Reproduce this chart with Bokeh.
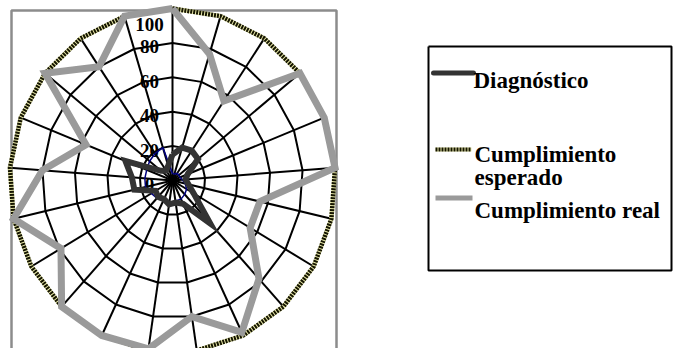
import numpy as np
from bokeh.plotting import figure
from bokeh.models import Range1d
from bokeh.layouts import row
from bokeh.embed import file_html
from bokeh.resources import INLINE
from bokeh.core.properties import value

# ---------------- data ----------------
n_cat = 21
categories = [str(i + 1) for i in range(n_cat)]
diagnostico = [15, 20, 21, 20, 10, 8, 10, 15, 34, 15, 13, 14, 12, 13, 12, 24, 25, 31, 9, 7, 9]
esperado = [100] * n_cat
real = [100, 77, 56, 100, 100, 100, 55, 55, 78, 98, 80, 99, 100, 100, 79, 100, 80, 57, 100, 80, 100]
serie_azul = [4, 4, 5, 5, 5, 6, 8, 10, 11, 12, 12, 13, 13, 14, 15, 17, 17, 17, 18, 19, 20]
ticks = [0, 20, 40, 60, 80, 100]
tick_labels = ["0", "20", "40", "60", "80", "100"]
legend_labels = ["Diagnóstico", "Cumplimiento esperado", "Cumplimiento real"]

# ---------------- layout constants (pixels) ----------------
W, H = 673, 348
RW = 345                # width of radar panel
CX, CY = 172, 180       # centre of radar in px
SX, SY = 1.63, 1.72     # px per unit horizontally / vertically

FONT = value("Liberation Serif")


def polar(vals):
    th = 2 * np.pi * np.arange(len(vals)) / len(vals)
    v = np.asarray(vals, dtype=float)
    x = v * np.sin(th)
    y = v * np.cos(th)
    return list(x) + [x[0]], list(y) + [y[0]]


def px2d(px, py):
    return (px - CX) / SX, (CY - py) / SY


p = figure(width=RW, height=H, output_backend="svg", toolbar_location=None,
           x_range=Range1d(-CX / SX, (RW - CX) / SX),
           y_range=Range1d(-(H - CY) / SY, CY / SY),
           x_axis_type=None, y_axis_type=None, min_border=0,
           background_fill_color="white", border_fill_color="white")
p.grid.visible = False
p.outline_line_color = None

# frame of the plot area
fl, ft = px2d(11, 10)
fr, fb = px2d(336, 365)
p.line([fl, fl, fr, fr], [fb, ft, ft, fb], line_color="#8c8c8c", line_width=2.5)

# grid rings (polygons) and spokes
for t in ticks[1:]:
    gx, gy = polar([t] * n_cat)
    p.line(gx, gy, line_color="black", line_width=2)
sx_, sy_ = polar([100] * n_cat)
p.multi_line([[0, a] for a in sx_[:-1]], [[0, b] for b in sy_[:-1]],
             line_color="black", line_width=2)

# tick labels
lx, _ = px2d(149, 0)
p.text(x=[lx] * len(ticks), y=[min(t, 93) for t in ticks], text=tick_labels,
       text_font=FONT, text_font_style="bold", text_font_size="19px",
       text_align="center", text_baseline="middle", y_offset=4, text_color="black")

# Cumplimiento esperado (hatched)
ex, ey = polar(esperado)
p.line(ex, ey, line_color="#e8e8a8", line_width=4.5)
p.line(ex, ey, line_color="#141400", line_width=4.5, line_dash="2 1")

# Cumplimiento real
rx, ry = polar(real)
p.line(rx, ry, line_color="#9a9a9a", line_width=7, line_join="miter")

# blue thin series
bx, by = polar(serie_azul)
p.line(bx, by, line_color="#000080", line_width=1.5)

# Diagnóstico
dx, dy = polar(diagnostico)
p.line(dx, dy, line_color="#333333", line_width=6, line_join="miter")

# ---------------- legend panel ----------------
q = figure(width=W - RW, height=H, output_backend="svg", toolbar_location=None,
           x_range=Range1d(RW, W), y_range=Range1d(H, 0),
           x_axis_type=None, y_axis_type=None, min_border=0,
           background_fill_color="white", border_fill_color="white")
q.grid.visible = False
q.outline_line_color = None

q.line([428, 671, 671, 428, 428], [46, 46, 270, 270, 46], line_color="black", line_width=2)

# symbols
q.line([433, 473], [72.5, 72.5], line_color="#333333", line_width=5, line_cap="round")
q.line([435, 471], [149, 149], line_color="#e8e8a8", line_width=4)
q.line([435, 471], [149, 149], line_color="#141400", line_width=4, line_dash="2 1")
q.line([435, 472], [197.5, 197.5], line_color="#9a9a9a", line_width=5)

lab_lines = [legend_labels[0], legend_labels[1].split(" ")[0], legend_labels[1].split(" ")[1], legend_labels[2]]
q.text(x=[473, 474, 474, 474], y=[79.5, 154, 176.5, 210], text=lab_lines,
       text_font=FONT, text_font_style="bold", text_font_size="23px",
       text_align="left", text_baseline="alphabetic", text_color="black")

layout = row(p, q, spacing=0)
open("out.html", "w").write(file_html(layout, INLINE))
